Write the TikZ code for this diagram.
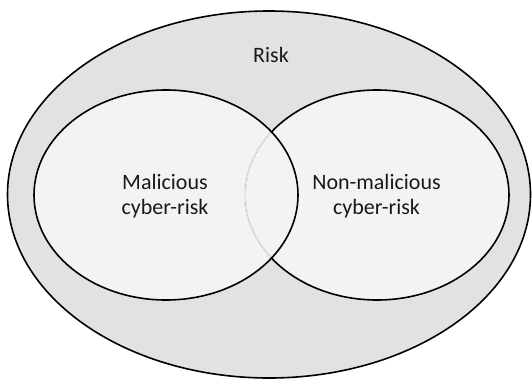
\documentclass[tikz,border=0pt]{standalone}
\usepackage{fontspec}
\setmainfont{Carlito}
\definecolor{riskfill}{HTML}{E2E2E2}
\definecolor{setfill}{HTML}{F3F3F3}
\definecolor{hiddenarc}{HTML}{A8A8A8}
\begin{document}
\begin{tikzpicture}[x=1pt,y=-1pt,
  ring/.style={draw=black, line width=1.6pt},
  caption/.style={font=\fontsize{22}{25}\selectfont, align=center, text=black!90, inner sep=0pt}]
\useasboundingbox (0,0) rectangle (532,380);
\fill[white] (0,0) rectangle (532,380);

% centres of the three sets
\coordinate (risk) at (269,194.5);
\coordinate (mal) at (166,195);
\coordinate (nonmal) at (377,195);

% outer set: all risk
\path[fill=riskfill, ring] (risk) ellipse [x radius=261.5, y radius=183.5];

% the two inner sets
\fill[setfill] (mal) ellipse [x radius=132, y radius=105];
\path[fill=setfill, ring] (nonmal) ellipse [x radius=132, y radius=105];

% the part of the right set's border inside the left set is faint and dotted
\begin{scope}
  \clip (mal) ellipse [x radius=132, y radius=105];
  \draw[setfill, line width=2.4pt] (nonmal) ellipse [x radius=132, y radius=105];
  \draw[hiddenarc, line width=0.8pt, densely dotted] (nonmal) ellipse [x radius=132, y radius=105];
\end{scope}
\draw[ring] (mal) ellipse [x radius=132, y radius=105];

% labels
\node[caption, anchor=base] (risklabel) at (271,62) {Risk};
\node[caption] (mallabel) at (165,196) {Malicious\\cyber-risk};
\node[caption] (nonmallabel) at (376.5,196) {Non-malicious\\cyber-risk};
\end{tikzpicture}
\end{document}
